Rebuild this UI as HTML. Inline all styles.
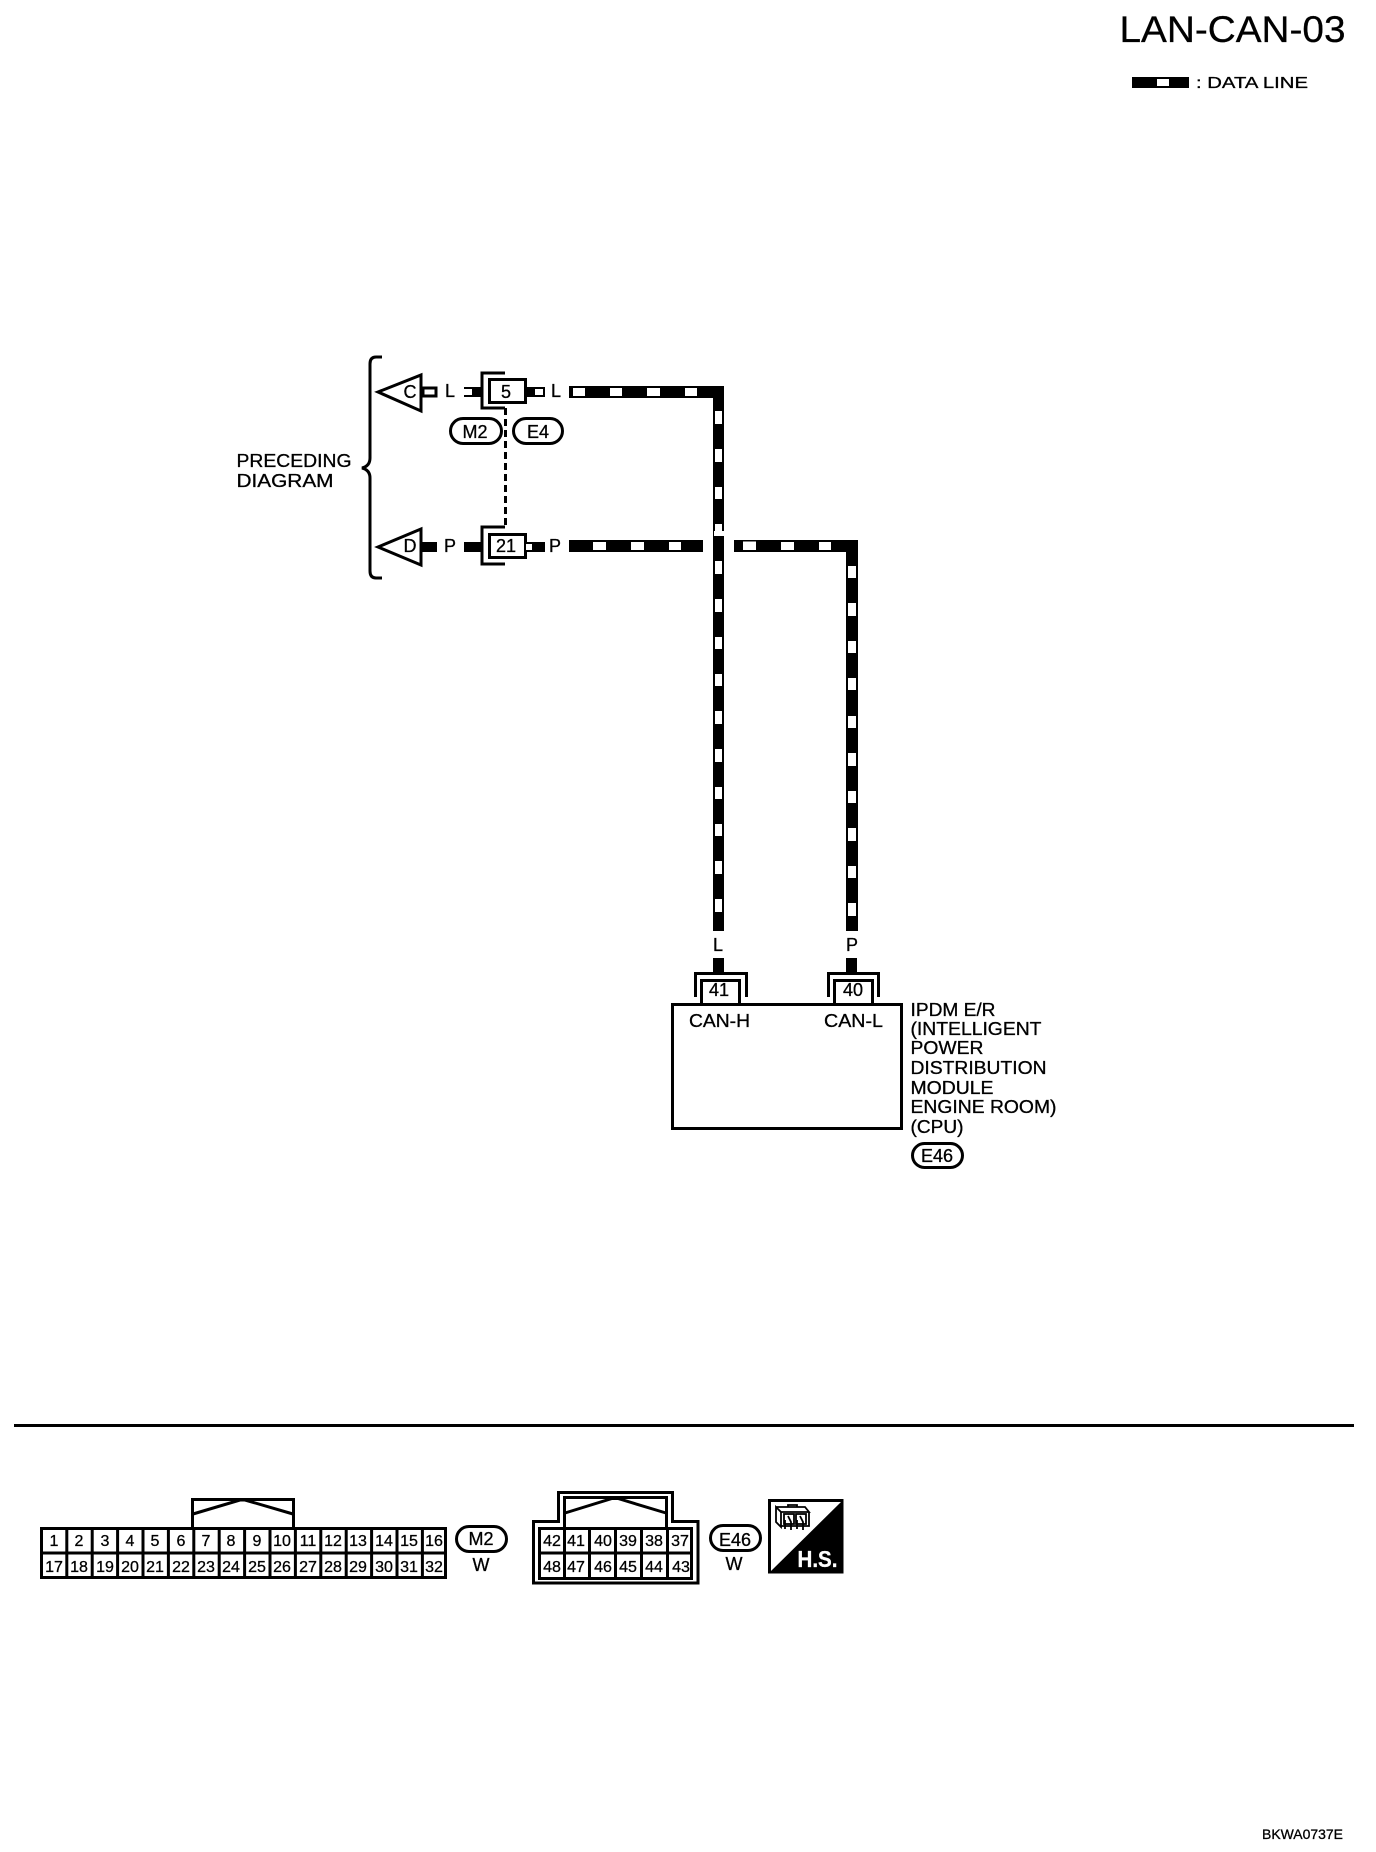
<!DOCTYPE html>
<html>
<head>
<meta charset="utf-8">
<style>
html,body{margin:0;padding:0;background:#fff}
svg{display:block}
text{font-family:"Liberation Sans",sans-serif;fill:#000;stroke:#000;stroke-width:.3px}
.m{text-anchor:middle}
.n{font-size:16px;text-anchor:middle}
.t{font-size:18px}
.s{fill:none;stroke:#000;stroke-width:3}
.w{fill:#fff}
</style>
</head>
<body>
<svg width="1376" height="1852" viewBox="0 0 1376 1852" xmlns="http://www.w3.org/2000/svg">
<rect width="1376" height="1852" fill="#fff"/>

<!-- title -->
<text x="1119.500" y="42" font-size="37.5" textLength="226" lengthAdjust="spacingAndGlyphs">LAN-CAN-03</text>
<rect x="1132" y="77" width="57" height="11"/>
<rect class="w" x="1157" y="79" width="12" height="7"/>
<text x="1196" y="88" font-size="16" textLength="112" lengthAdjust="spacingAndGlyphs">: DATA LINE</text>

<!-- brace -->
<path class="s" stroke-width="2.5" d="M382 357 H376 Q370 357 370 364 V458 Q370 466 362 468 Q370 470 370 478 V571 Q370 578 376 578 H382"/>
<text class="t" x="236.500" y="467" textLength="115" lengthAdjust="spacingAndGlyphs">PRECEDING</text>
<text class="t" x="236.500" y="487" textLength="97" lengthAdjust="spacingAndGlyphs">DIAGRAM</text>

<!-- C row -->
<path class="s" d="M378 392 L421 375 V411 Z"/>
<text class="t" x="403.500" y="398">C</text>
<rect class="s" stroke-width="2.5" x="423" y="388" width="13" height="8"/>
<text class="t" x="445" y="397">L</text>
<rect x="464" y="387" width="17" height="10"/>
<rect class="w" x="464" y="389" width="8" height="6"/>
<path class="s" d="M505 373 H482 V408 H505"/>
<rect class="s" x="489.500" y="379.500" width="36" height="23"/>
<text class="t m" x="506" y="398">5</text>
<rect x="526" y="387" width="19" height="10"/>
<rect class="w" x="535" y="389" width="8" height="6"/>
<text class="t" x="551" y="397">L</text>

<!-- dashed -->
<path class="s" stroke-dasharray="7 4" d="M505.500 408 V526"/>

<!-- pills -->
<rect class="s" x="450.500" y="418.500" width="51" height="25" rx="12.500"/>
<text class="t m" x="475" y="438">M2</text>
<rect class="s" x="513.500" y="418.500" width="49" height="25" rx="12.500"/>
<text class="t m" x="538" y="438">E4</text>

<!-- D row -->
<path class="s" d="M378 547 L421 529 V565 Z"/>
<text class="t" x="403.500" y="552">D</text>
<rect x="422" y="542" width="15" height="10"/>
<text class="t" x="444" y="552">P</text>
<rect x="464" y="542" width="17" height="10"/>
<path class="s" d="M505 527 H482 V564 H505"/>
<rect class="s" x="489.500" y="534.500" width="36" height="23"/>
<text class="t m" x="506" y="552">21</text>
<rect x="526" y="542" width="19" height="10"/>
<rect class="w" x="526" y="544" width="6" height="6"/>
<text class="t" x="549" y="552">P</text>

<!-- L wire -->
<path d="M569 386 H724 V931 H713 V398 H569 Z"/>
<g class="w">
<rect x="573" y="388" width="12" height="8"/><rect x="610" y="388" width="12" height="8"/><rect x="647" y="388" width="13" height="8"/><rect x="685" y="388" width="12" height="8"/>
<rect x="715" y="411" width="7" height="13"/><rect x="715" y="449" width="7" height="13"/><rect x="715" y="487" width="7" height="12"/><rect x="715" y="524" width="7" height="12"/><rect x="714" y="531" width="10" height="5"/>
<rect x="715" y="561" width="7" height="13"/><rect x="715" y="599" width="7" height="13"/><rect x="715" y="637" width="7" height="12"/><rect x="715" y="674" width="7" height="12"/><rect x="715" y="711" width="7" height="13"/><rect x="715" y="749" width="7" height="13"/><rect x="715" y="787" width="7" height="12"/><rect x="715" y="824" width="7" height="12"/><rect x="715" y="861" width="7" height="13"/><rect x="715" y="899" width="7" height="13"/>
</g>

<!-- P wire -->
<rect x="569" y="540" width="134" height="12"/>
<g class="w"><rect x="593" y="542" width="13" height="8"/><rect x="631" y="542" width="13" height="8"/><rect x="669" y="542" width="12" height="8"/></g>
<path d="M734 540 H858 V931 H846 V552 H734 Z"/>
<g class="w">
<rect x="743" y="541.500" width="13" height="8.500"/><rect x="781" y="542" width="13" height="8"/><rect x="819" y="542" width="12" height="8"/>
<rect x="848" y="566" width="8" height="12"/><rect x="848" y="603" width="8" height="13"/><rect x="848" y="641" width="8" height="12"/><rect x="848" y="678" width="8" height="12"/><rect x="848" y="716" width="8" height="12"/><rect x="848" y="753" width="8" height="13"/><rect x="848" y="791" width="8" height="12"/><rect x="848" y="828" width="8" height="13"/><rect x="848" y="866" width="8" height="12"/><rect x="848" y="903" width="8" height="13"/>
</g>

<!-- IPDM -->
<text class="t m" x="718" y="951">L</text>
<text class="t m" x="852" y="951">P</text>
<rect x="713" y="958" width="11" height="14"/>
<rect x="846" y="958" width="11" height="14"/>
<path class="s" d="M695.500 997 V973.500 H746.500 V997"/>
<path class="s" d="M828.500 997 V973.500 H878.500 V997"/>
<path class="s" d="M701.500 1003 V980.500 H739.500 V1003"/>
<path class="s" d="M834.500 1003 V980.500 H872.500 V1003"/>
<text class="t m" x="719" y="996">41</text>
<text class="t m" x="853" y="996">40</text>
<rect class="s" x="672.500" y="1004.500" width="229" height="124"/>
<text class="t" x="689" y="1027" textLength="61" lengthAdjust="spacingAndGlyphs">CAN-H</text>
<text class="t" x="824" y="1027" textLength="59" lengthAdjust="spacingAndGlyphs">CAN-L</text>
<text class="t" x="910.500" y="1016" textLength="85" lengthAdjust="spacingAndGlyphs">IPDM E/R</text>
<text class="t" x="910.500" y="1035" textLength="131" lengthAdjust="spacingAndGlyphs">(INTELLIGENT</text>
<text class="t" x="910.500" y="1054" textLength="73" lengthAdjust="spacingAndGlyphs">POWER</text>
<text class="t" x="910.500" y="1074" textLength="136" lengthAdjust="spacingAndGlyphs">DISTRIBUTION</text>
<text class="t" x="910.500" y="1094" textLength="83" lengthAdjust="spacingAndGlyphs">MODULE</text>
<text class="t" x="910.500" y="1113" textLength="146" lengthAdjust="spacingAndGlyphs">ENGINE ROOM)</text>
<text class="t" x="910.500" y="1133" textLength="53" lengthAdjust="spacingAndGlyphs">(CPU)</text>
<rect class="s" x="912.500" y="1143.500" width="50" height="24" rx="12"/>
<text class="t m" x="937" y="1162">E46</text>

<!-- divider -->
<rect x="14" y="1424" width="1340" height="3"/>

<!-- M2 connector -->
<path class="s" d="M192.500 1527 V1499.500 H293.500 V1527"/>
<path class="s" stroke-width="2.500" d="M193 1514 L240 1500 H245 L293 1514"/>
<path class="s" d="M41.500 1528.500 H445.500 V1577.500 H41.500 Z M41.500 1553 H445.500
M66.800 1528 V1578 M92.200 1528 V1578 M117.600 1528 V1578 M143 1528 V1578 M168.400 1528 V1578 M193.800 1528 V1578 M219.200 1528 V1578 M244.600 1528 V1578 M270 1528 V1578 M295.400 1528 V1578 M320.800 1528 V1578 M346.200 1528 V1578 M371.600 1528 V1578 M397 1528 V1578 M422.400 1528 V1578"/>
<text class="n" x="54" y="1546">1</text><text class="n" x="79" y="1546">2</text><text class="n" x="105" y="1546">3</text><text class="n" x="130" y="1546">4</text><text class="n" x="155" y="1546">5</text><text class="n" x="181" y="1546">6</text><text class="n" x="206" y="1546">7</text><text class="n" x="231" y="1546">8</text><text class="n" x="257" y="1546">9</text><text class="n" x="282" y="1546">10</text><text class="n" x="308" y="1546">11</text><text class="n" x="333" y="1546">12</text><text class="n" x="358" y="1546">13</text><text class="n" x="384" y="1546">14</text><text class="n" x="409" y="1546">15</text><text class="n" x="434" y="1546">16</text>
<text class="n" x="54" y="1572">17</text><text class="n" x="79" y="1572">18</text><text class="n" x="105" y="1572">19</text><text class="n" x="130" y="1572">20</text><text class="n" x="155" y="1572">21</text><text class="n" x="181" y="1572">22</text><text class="n" x="206" y="1572">23</text><text class="n" x="231" y="1572">24</text><text class="n" x="257" y="1572">25</text><text class="n" x="282" y="1572">26</text><text class="n" x="308" y="1572">27</text><text class="n" x="333" y="1572">28</text><text class="n" x="358" y="1572">29</text><text class="n" x="384" y="1572">30</text><text class="n" x="409" y="1572">31</text><text class="n" x="434" y="1572">32</text>
<rect class="s" x="456.500" y="1526.500" width="50" height="25" rx="12.500"/>
<text class="t m" x="481" y="1545">M2</text>
<text class="t m" x="481" y="1571">W</text>

<!-- E46 connector -->
<path class="s" d="M533.500 1521.500 H558.500 V1492.500 H672.500 V1521.500 H698 V1583 H533.500 Z"/>
<path class="s" d="M564.500 1527 V1497.500 H666.500 V1527"/>
<path class="s" stroke-width="2.500" d="M565 1513 L612 1498.500 H618 L666 1513"/>
<path class="s" d="M539.500 1528.500 H691.500 V1578.500 H539.500 Z M539.500 1553 H691.500
M564.500 1528 V1579 M589.500 1528 V1579 M615.500 1528 V1579 M641.500 1528 V1579 M667.500 1528 V1579"/>
<text class="n" x="552" y="1546">42</text><text class="n" x="576" y="1546">41</text><text class="n" x="603" y="1546">40</text><text class="n" x="628" y="1546">39</text><text class="n" x="654" y="1546">38</text><text class="n" x="680" y="1546">37</text>
<text class="n" x="552" y="1572">48</text><text class="n" x="576" y="1572">47</text><text class="n" x="603" y="1572">46</text><text class="n" x="628" y="1572">45</text><text class="n" x="654" y="1572">44</text><text class="n" x="681" y="1572">43</text>
<rect class="s" x="710.500" y="1525.500" width="50" height="25" rx="12.500"/>
<text class="t m" x="735" y="1546">E46</text>
<text class="t m" x="734" y="1570">W</text>

<!-- H.S. icon -->
<rect x="768" y="1499" width="75.500" height="74.500"/>
<path class="w" d="M771 1502 H841 L771 1571 Z"/>
<text x="797.500" y="1567" font-size="23.500" font-weight="bold" style="fill:#fff;stroke:#fff" textLength="40" lengthAdjust="spacingAndGlyphs">H.S.</text>
<g fill="none" stroke="#000" stroke-width="1.800">
<path d="M776 1507 H805 L809 1512 H781 L776 1507 V1522 L781 1527 V1512 M781 1526 H809 V1512"/>
<rect x="784" y="1514" width="10" height="10"/>
<rect x="796" y="1514" width="10" height="10"/>
<path d="M788 1507 V1505 H797 V1507 M788 1516 L791 1522 V1530 M800 1516 L803 1522 V1530 M785 1520 V1529 M797 1520 V1529"/>
</g>

<!-- id -->
<text x="1262" y="1839" font-size="14" textLength="81" lengthAdjust="spacingAndGlyphs">BKWA0737E</text>
</svg>
</body>
</html>
